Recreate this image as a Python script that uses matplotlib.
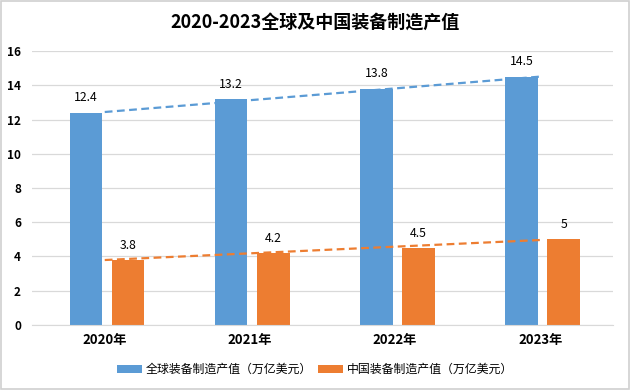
import numpy as np
import matplotlib
matplotlib.use("Agg")
import matplotlib.pyplot as plt
from matplotlib.patches import Rectangle

plt.rcParams['font.family'] = ['Noto Sans CJK SC', 'DejaVu Sans']

# Dados
anos = ["2020年", "2021年", "2022年", "2023年"]
global_vals = [12.4, 13.2, 13.8, 14.5]
china_vals = [3.8, 4.2, 4.5, 5]
serie_global = "全球装备制造产值（万亿美元）"
serie_china = "中国装备制造产值（万亿美元）"
titulo = "2020-2023全球及中国装备制造产值"

azul = "#5B9BD5"
laranja = "#ED7D31"

fig = plt.figure(figsize=(6.3, 3.9), dpi=100)
ax = fig.add_axes([0.051, 0.167, 0.922, 0.702])

x = np.arange(len(anos))
largura = 0.225
b1 = ax.bar(x - 0.13, global_vals, largura, color=azul, label=serie_global, zorder=2)
b2 = ax.bar(x + 0.16, china_vals, largura, color=laranja, label=serie_china, zorder=2)

for barras, vals in [(b1, global_vals), (b2, china_vals)]:
    for r, v in zip(barras, vals):
        ax.annotate(f"{v:g}", (r.get_x() + r.get_width() / 2, v),
                    xytext=(0, 6), textcoords="offset points",
                    ha="center", va="bottom", fontsize=8.8)

# Linhas de tendência (regressão linear)
for vals, cor in [(global_vals, azul), (china_vals, laranja)]:
    a, b = np.polyfit(x, vals, 1)
    ax.plot([x[0], x[-1]], [a * x[0] + b, a * x[-1] + b], "--",
            color=cor, lw=1.6, dashes=(3.5, 2), zorder=3)

ax.set_xlim(-0.5, len(anos) - 0.5)
ax.set_ylim(0, 16)
ax.set_yticks(range(0, 17, 2))
ax.yaxis.grid(True, color="#d9d9d9", lw=0.9, zorder=0)
ax.set_axisbelow(True)
for s in ["left", "right", "top"]:
    ax.spines[s].set_visible(False)
ax.spines["bottom"].set_color("#d9d9d9")
ax.tick_params(axis="y", length=0, labelsize=8.5, pad=8)
for t in ax.get_yticklabels():
    t.set_fontweight("bold")

ax.set_xticks(x)
ax.set_xticklabels(anos, fontsize=9.5, fontweight="bold")
ax.tick_params(axis="x", length=0, pad=6)

fig.text(0.5, 0.943, titulo, ha="center", va="center", fontsize=13, fontweight="bold")

fig.legend(handles=[b1, b2], loc="center", bbox_to_anchor=(0.5, 0.052),
           ncol=2, frameon=False, fontsize=8.6, handlelength=2.1,
           handleheight=0.55, columnspacing=0.5, handletextpad=0.35)

fig.patches.append(Rectangle((0.002, 0.003), 0.996, 0.994, transform=fig.transFigure,
                             fill=False, edgecolor="#d0d0d0", lw=1.2))

fig.savefig("out.png", dpi=100)
